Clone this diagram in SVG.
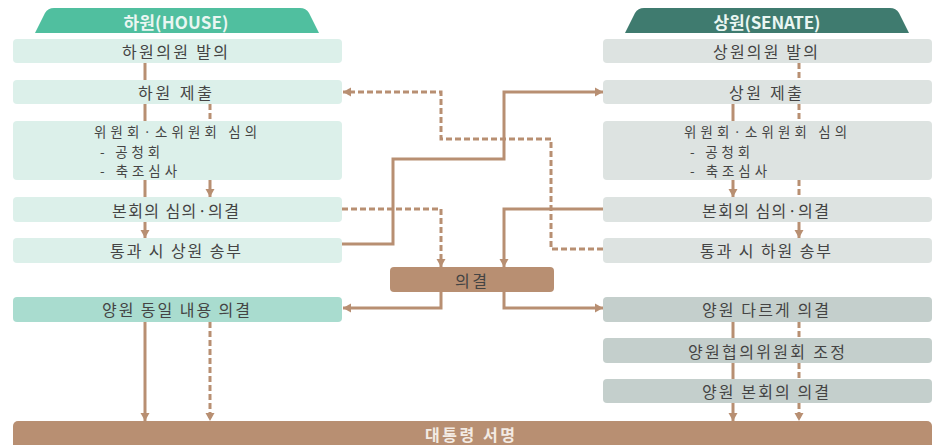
<svg xmlns="http://www.w3.org/2000/svg" width="938" height="445" viewBox="0 0 938 445">
<defs>
<style>
text{font-family:"Noto Sans CJK KR","Noto Sans",sans-serif;font-size:16px;fill:#444444;dominant-baseline:central}
.c{text-anchor:middle}
.m{font-size:13.4px}
.hd{font-weight:bold;fill:#eaf6f2;font-size:17px}
.lb{fill:#dcf0ea}
.lb2{fill:#a9dccf}
.rb{fill:#dde3e1}
.rb2{fill:#c4cfcc}
.br{fill:#b88f72}
.ln{fill:none;stroke:#b88f72;stroke-width:3}
.ds{stroke-dasharray:6 3}
.ar{marker-end:url(#ah)}
</style>
<marker id="ah" markerUnits="userSpaceOnUse" markerWidth="10" markerHeight="10" refX="8" refY="5" orient="auto">
<path d="M0,0.5 L8,5 L0,9.5 Z" fill="#b88f72"/>
</marker>
</defs>
<rect width="938" height="445" fill="#ffffff"/>

<g id="house-header">
<path d="M35,33 L45,13 Q48,8 54,8 L300,8 Q306,8 309,13 L319,33 Z" fill="#50bf9f"/>
<text class="c hd" x="176" y="21" textLength="105" lengthAdjust="spacing">하원(HOUSE)</text>
</g>
<g id="senate-header">
<path d="M625,33 L635,13 Q638,8 644,8 L890,8 Q896,8 899,13 L909,33 Z" fill="#3f7b6f"/>
<text class="c hd" x="767" y="21" textLength="107" lengthAdjust="spacing">상원(SENATE)</text>
</g>

<g id="h1"><rect class="lb" x="13" y="39" width="329" height="24" rx="4"/><text class="c" x="175" y="51" textLength="106" lengthAdjust="spacing">하원의원 발의</text></g>
<g id="h2"><rect class="lb" x="13" y="80" width="329" height="24" rx="4"/><text class="c" x="175" y="92" textLength="74" lengthAdjust="spacing">하원 제출</text></g>
<g id="h3"><rect class="lb" x="13" y="121" width="329" height="59" rx="4"/>
<text class="c m" x="175.5" y="131" textLength="163" lengthAdjust="spacing">위원회·소위원회 심의</text>
<text class="m" x="100" y="150.5" textLength="60" lengthAdjust="spacing">- 공청회</text>
<text class="m" x="100" y="170" textLength="77" lengthAdjust="spacing">- 축조심사</text></g>
<g id="h4"><rect class="lb" x="13" y="197" width="329" height="25" rx="4"/><text class="c" x="175.5" y="210" textLength="127" lengthAdjust="spacing">본회의 심의·의결</text></g>
<g id="h5"><rect class="lb" x="13" y="238" width="329" height="25" rx="4"/><text class="c" x="175.5" y="250" textLength="131" lengthAdjust="spacing">통과 시 상원 송부</text></g>
<g id="h6"><rect class="lb2" x="13" y="297" width="329" height="25" rx="4"/><text class="c" x="176" y="309" textLength="148" lengthAdjust="spacing">양원 동일 내용 의결</text></g>

<g id="s1"><rect class="rb" x="603" y="39" width="329" height="24" rx="4"/><text class="c" x="765.5" y="51" textLength="105" lengthAdjust="spacing">상원의원 발의</text></g>
<g id="s2"><rect class="rb" x="603" y="80" width="329" height="24" rx="4"/><text class="c" x="765.5" y="92" textLength="73" lengthAdjust="spacing">상원 제출</text></g>
<g id="s3"><rect class="rb" x="603" y="121" width="329" height="59" rx="4"/>
<text class="c m" x="765.5" y="131" textLength="163" lengthAdjust="spacing">위원회·소위원회 심의</text>
<text class="m" x="690" y="150.5" textLength="60" lengthAdjust="spacing">- 공청회</text>
<text class="m" x="690" y="170" textLength="77" lengthAdjust="spacing">- 축조심사</text></g>
<g id="s4"><rect class="rb" x="603" y="197" width="329" height="25" rx="4"/><text class="c" x="765.5" y="210" textLength="127" lengthAdjust="spacing">본회의 심의·의결</text></g>
<g id="s5"><rect class="rb" x="603" y="238" width="329" height="25" rx="4"/><text class="c" x="765.5" y="250" textLength="131" lengthAdjust="spacing">통과 시 하원 송부</text></g>
<g id="s6"><rect class="rb2" x="603" y="297" width="329" height="25" rx="4"/><text class="c" x="765.5" y="309" textLength="127" lengthAdjust="spacing">양원 다르게 의결</text></g>
<g id="s7"><rect class="rb2" x="603" y="338" width="329" height="25" rx="4"/><text class="c" x="766.5" y="351" textLength="157" lengthAdjust="spacing">양원협의위원회 조정</text></g>
<g id="s8"><rect class="rb2" x="603" y="379" width="329" height="24" rx="4"/><text class="c" x="765.5" y="391" textLength="127" lengthAdjust="spacing">양원 본회의 의결</text></g>

<g id="vote"><rect class="br" x="390" y="267" width="164" height="25" rx="4"/><text class="c" x="471" y="279.5" textLength="32" lengthAdjust="spacing">의결</text></g>
<g id="sign"><rect class="br" x="13" y="421" width="919" height="34" rx="5"/><text class="c hd" x="470" y="434" textLength="90" lengthAdjust="spacing" style="fill:#f3ebe4;font-size:16px">대통령 서명</text></g>

<g id="connectors">
<path class="ln" d="M145,63 V80 M145,104 V121 M145,180 V197"/>
<path class="ln ds" d="M210,104 V121"/>
<path class="ln ar" d="M210,180 V197"/>
<path class="ln ar" d="M145,222 V238"/>
<path class="ln ar" d="M145,322 V421"/>
<path class="ln ds ar" d="M210,322 V421"/>

<path class="ln ds" d="M799,63 V80 M799,104 V121 M799,180 V197"/>
<path class="ln" d="M733,104 V121"/>
<path class="ln ar" d="M733,180 V197"/>
<path class="ln ar" d="M799,222 V238"/>
<path class="ln" d="M733,322 V338 M733,363 V379"/>
<path class="ln ds" d="M799,322 V338 M799,363 V379"/>
<path class="ln ar" d="M733,403 V421"/>
<path class="ln ds ar" d="M799,403 V421"/>

<path class="ln ds ar" d="M603,249 H551 V139 H441 V92 H343"/>
<path class="ln ar" d="M342,244 H393 V159 H504 V92 H603"/>
<path class="ln ds ar" d="M342,209 H441 V267"/>
<path class="ln ar" d="M603,209 H504 V267"/>
<path class="ln ar" d="M441,292 V308 H343"/>
<path class="ln ar" d="M504,292 V308 H603"/>
</g>
</svg>
